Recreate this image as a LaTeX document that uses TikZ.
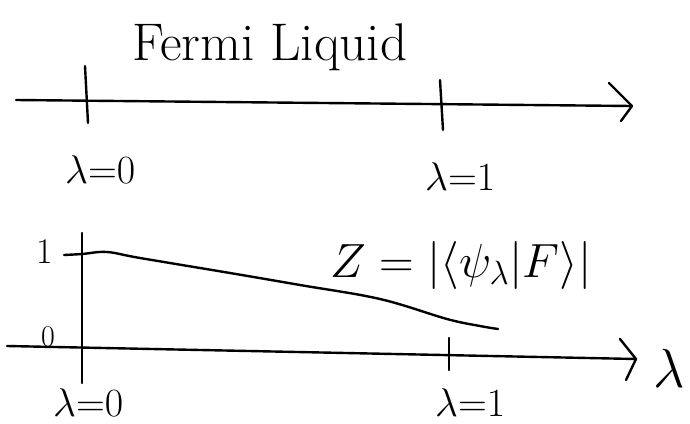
\documentclass[tikz,border=0pt]{standalone}
\usepackage{fix-cm}
\usepackage{fontspec}
\begin{document}
\begin{tikzpicture}[x=1pt,y=-1pt,
  ink/.style={line width=2.4pt,line cap=round,line join=round},
  lab/.style={inner sep=0pt,anchor=base west,font=\fontsize{40}{44}\selectfont}]
\useasboundingbox (0,0) rectangle (690,423);
% title
\node[inner sep=0pt,anchor=base west,font=\fontsize{53}{56}\selectfont] (title) at (132,60) {Fermi Liquid};
% top axis
\coordinate (tA) at (16,100);
\coordinate (tB) at (632,106);
\coordinate (tH1) at (609,83);
\coordinate (tH2) at (621,121);
\draw[ink] (tA) -- (tB);
\draw[ink] (tH1) -- (tB) -- (tH2);
\coordinate (t0a) at (85,66); \coordinate (t0b) at (88,123);
\coordinate (t1a) at (440,80); \coordinate (t1b) at (443,130);
\draw[ink] (t0a) -- (t0b);
\draw[ink] (t1a) -- (t1b);
\node[lab] (l0top) at (65,183) {$\lambda{=}0$};
\node[lab] (l1top) at (425,190) {$\lambda{=}1$};
% bottom plot
\coordinate (bA) at (7,346);
\coordinate (bB) at (636,359);
\coordinate (bH1) at (620,339);
\coordinate (bH2) at (626,380);
\draw[ink] (bA) -- (bB);
\draw[ink] (bH1) -- (bB) -- (bH2);
\coordinate (vA) at (82,233); \coordinate (vB) at (82,383);
\draw[ink] (vA) -- (vB);
\coordinate (b1a) at (449,338); \coordinate (b1b) at (449,370);
\draw[ink] (b1a) -- (b1b);
\draw[ink] plot[smooth,tension=0.6] coordinates {(64,255) (82,254) (107,252) (140,258) (230,273) (300,285) (380,299) (447,319) (480,326) (498,329)};
\node[inner sep=0pt,anchor=base,font=\fontsize{36}{40}\selectfont] (one) at (45,263) {1};
\node[inner sep=0pt,anchor=base,font=\fontsize{30}{34}\selectfont] (zero) at (48,346) {0};
\node[inner sep=0pt,anchor=base west,font=\fontsize{48}{52}\selectfont] (Z) at (330,277) {$Z=|\langle\psi_\lambda|F\rangle|$};
\node[inner sep=0pt,anchor=base west,font=\fontsize{55}{60}\selectfont] (lam) at (653,387) {$\lambda$};
\node[lab] (l0bot) at (53,416) {$\lambda{=}0$};
\node[lab] (l1bot) at (435,416) {$\lambda{=}1$};
\end{tikzpicture}
\end{document}
